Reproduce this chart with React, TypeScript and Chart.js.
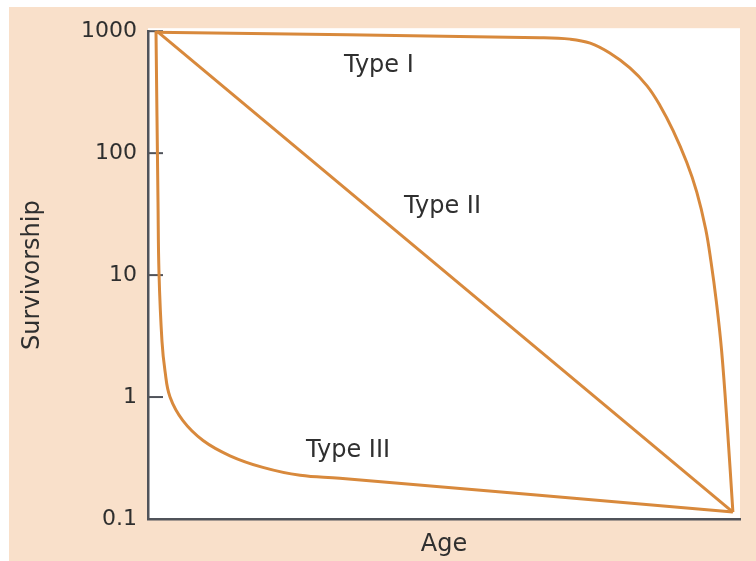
import React, { useEffect, useRef } from "react";
import { Chart, registerables } from "chart.js";

Chart.register(...registerables);

// Age (0-100 relative scale) and survivorship (per 1000)
const typeIAge = [1.2, 66.2, 71.3, 74.7, 78.0, 81.4, 84.3, 86.5, 88.7, 91.0, 92.7, 94.2, 95.1, 96.0, 96.9, 97.9, 98.8];
const typeISurv = [981, 885, 861, 798, 662, 500, 356, 245, 153, 84.1, 47.9, 23.9, 12.9, 6.09, 2.38, 0.531, 0.114];

const typeIIAge = [1.5, 98.8];
const typeIISurv = [1000, 0.114];

const typeIIIAge = [1.35, 1.69, 1.86, 2.36, 2.87, 3.72, 5.9, 9.3, 13.85, 19.4, 25.7, 32.4, 98.8];
const typeIIISurv = [1000, 39.7, 10.3, 2.87, 1.64, 1.0, 0.64, 0.44, 0.33, 0.265, 0.228, 0.216, 0.114];

const yTickValues = [0.1, 1, 10, 100, 1000];
const innerTickValues = [1, 10, 100, 1000];

const curveLabels = ["Type I", "Type II", "Type III"];
const curveLabelAge = [39.0, 49.75, 33.8];
const curveLabelSurv = [459, 32.6, 0.32];

const FONT = "'DejaVu Sans', sans-serif";
const LINE = "#D8893C";
const AXIS = "#50535a";
const TEXT = "#2f2f2f";
const PEACH = "#F9E0CA";

function toPoints(xs: number[], ys: number[]) {
  return xs.map((x, i) => ({ x, y: ys[i] }));
}

const decorPlugin = {
  id: "decor",
  beforeDraw(chart: any) {
    const { ctx, chartArea } = chart;
    ctx.save();
    ctx.fillStyle = "#ffffff";
    ctx.fillRect(chartArea.left, chartArea.top - 3, chartArea.right - chartArea.left, chartArea.bottom - chartArea.top + 3);
    ctx.restore();
  },
  beforeDatasetsDraw(chart: any) {
    const { ctx, chartArea, scales } = chart;
    ctx.save();
    ctx.strokeStyle = AXIS;
    ctx.lineWidth = 2;
    innerTickValues.forEach((v) => {
      const y = scales.y.getPixelForValue(v);
      ctx.beginPath();
      ctx.moveTo(chartArea.left, y);
      ctx.lineTo(chartArea.left + 15, y);
      ctx.stroke();
    });
    ctx.restore();
  },
  afterDatasetsDraw(chart: any) {
    const { ctx, scales } = chart;
    ctx.save();
    ctx.fillStyle = TEXT;
    ctx.font = `24px ${FONT}`;
    ctx.textAlign = "center";
    ctx.textBaseline = "alphabetic";
    curveLabels.forEach((t, i) => {
      ctx.fillText(t, scales.x.getPixelForValue(curveLabelAge[i]), scales.y.getPixelForValue(curveLabelSurv[i]));
    });
    ctx.restore();
  },
};

export default function App() {
  const ref = useRef<HTMLCanvasElement>(null);

  useEffect(() => {
    if (!ref.current) return;
    const lineStyle = {
      borderColor: LINE,
      borderWidth: 3,
      pointRadius: 0,
      fill: false,
      clip: false as any,
    };
    const chart = new Chart(ref.current, {
      type: "line",
      data: {
        datasets: [
          { label: "Type I", data: toPoints(typeIAge, typeISurv), tension: 0.4, ...lineStyle },
          { label: "Type II", data: toPoints(typeIIAge, typeIISurv), tension: 0, ...lineStyle },
          { label: "Type III", data: toPoints(typeIIIAge, typeIIISurv), tension: 0.4, ...lineStyle },
        ],
      },
      options: {
        animation: false,
        responsive: true,
        maintainAspectRatio: false,
        layout: { padding: { top: 21, right: 16, bottom: 0, left: 0 } },
        plugins: {
          legend: { display: false },
          tooltip: { enabled: false },
        },
        scales: {
          x: {
            type: "linear",
            min: 0,
            max: 100,
            ticks: { display: false },
            grid: { display: false, drawTicks: false },
            border: { display: true, color: AXIS, width: 2.5 },
            title: {
              display: true,
              text: "Age",
              color: TEXT,
              font: { family: FONT, size: 24 },
              padding: { top: 0, bottom: 2 },
            },
            afterFit: (s: any) => {
              s.height = 42;
            },
          },
          y: {
            type: "logarithmic",
            min: 0.1,
            max: 1000,
            afterBuildTicks: (s: any) => {
              s.ticks = yTickValues.map((v) => ({ value: v }));
            },
            ticks: {
              color: TEXT,
              font: { family: FONT, size: 22 },
              padding: 11,
              autoSkip: false,
              callback: (v: any) => String(v),
            },
            grid: { display: false, drawTicks: false },
            border: { display: true, color: AXIS, width: 2.5 },
            title: {
              display: true,
              text: "Survivorship",
              color: TEXT,
              font: { family: FONT, size: 24 },
              padding: { top: 9, bottom: 0 },
            },
            afterFit: (s: any) => {
              s.width = 139;
            },
          },
        },
      },
      plugins: [decorPlugin],
    });
    return () => chart.destroy();
  }, []);

  return (
    <div style={{ position: "fixed", left: 0, top: 0, width: 756, height: 561, background: "#ffffff", overflow: "hidden" }}>
      <div style={{ position: "absolute", left: 9, top: 7, width: 747, height: 554, background: PEACH }}>
        <canvas ref={ref} />
      </div>
    </div>
  );
}
